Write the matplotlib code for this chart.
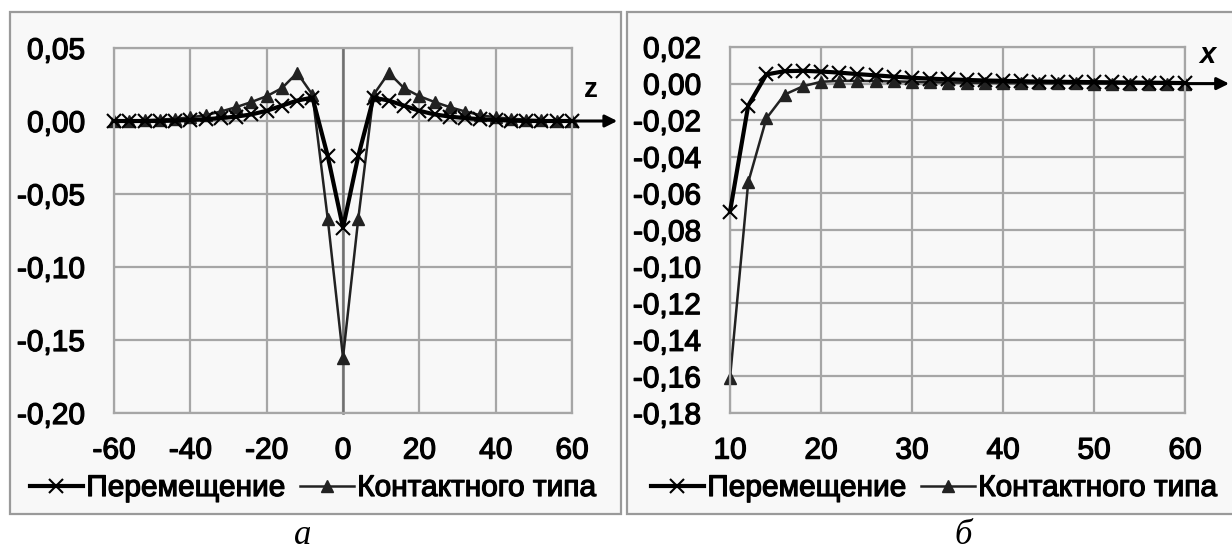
import numpy as np
import matplotlib
matplotlib.use("Agg")
import matplotlib.pyplot as plt
import matplotlib.patheffects as pe
from matplotlib.patches import Rectangle
from matplotlib.ticker import FixedLocator, FixedFormatter

plt.rcParams['font.family'] = ['Liberation Sans', 'DejaVu Sans']
plt.rcParams['axes.unicode_minus'] = False

# --- panel a (z) ---
z_half = [-60, -56, -52, -48, -44, -40, -36, -32, -28, -24, -20, -16, -12, -8, -4, 0]
disp_a_half = [0.0, 0.0, 0.0, 0.0, 0.0003, 0.0007, 0.0012, 0.002, 0.003, 0.0045,
               0.007, 0.0105, 0.014, 0.016, -0.024, -0.073]
cont_a_half = [0.0, 0.0, 0.0005, 0.001, 0.0015, 0.0025, 0.004, 0.0065, 0.0095, 0.013,
               0.017, 0.0225, 0.033, 0.018, -0.067, -0.162]
# symmetric about z = 0
z = z_half + [-v for v in z_half[-2::-1]]
disp_a = disp_a_half + disp_a_half[-2::-1]
cont_a = cont_a_half + cont_a_half[-2::-1]

a_xticks = [-60, -40, -20, 0, 20, 40, 60]
a_yticks = [0.05, 0.0, -0.05, -0.10, -0.15, -0.20]
a_ylabels = ['0,05', '0,00', '-0,05', '-0,10', '-0,15', '-0,20']

# --- panel b (x) ---
xb = [10, 12, 14, 16, 18, 20, 22, 24, 26, 28, 30, 32, 34, 36, 38, 40,
      42, 44, 46, 48, 50, 52, 54, 56, 58, 60]
disp_b = [-0.070, -0.012, 0.005, 0.0068, 0.007, 0.0066, 0.006, 0.0052, 0.0045, 0.0038,
          0.0032, 0.0027, 0.0023, 0.002, 0.0017, 0.0015, 0.0013, 0.0011, 0.001, 0.0009,
          0.0008, 0.0007, 0.0006, 0.0005, 0.0004, 0.0003]
cont_b = [-0.161, -0.054, -0.019, -0.006, -0.0015, 0.001, 0.0015, 0.0015, 0.0014, 0.0012,
          0.001, 0.0008, 0.0006, 0.0005, 0.0004, 0.0003, 0.0002, 0.0002, 0.0001, 0.0001,
          0.0, 0.0, 0.0, 0.0, 0.0, 0.0]

b_xticks = [10, 20, 30, 40, 50, 60]
b_yticks = [0.02, 0.0, -0.02, -0.04, -0.06, -0.08, -0.10, -0.12, -0.14, -0.16, -0.18]
b_ylabels = ['0,02', '0,00', '-0,02', '-0,04', '-0,06', '-0,08', '-0,10',
             '-0,12', '-0,14', '-0,16', '-0,18']

names = ['Перемещение', 'Контактного типа']

W, H = 1232, 552
fig = plt.figure(figsize=(W / 100, H / 100), dpi=100)
fig.patch.set_facecolor('white')

bg = '#f8f8f8'
grid_c = '#a6a6a6'
heavy = [pe.withStroke(linewidth=0.9, foreground='black')]


def box(x0, y0, x1, y1):
    # pixel rectangle (top-left origin) -> figure fraction
    return [x0 / W, 1 - y1 / H, (x1 - x0) / W, (y1 - y0) / H]


for (x0, x1) in [(10, 621), (627, 1245)]:
    r = box(x0, 12, x1, 514)
    fig.patches.append(Rectangle((r[0], r[1]), r[2], r[3], transform=fig.transFigure,
                                 facecolor=bg, edgecolor='#9a9a9a', lw=1.6, zorder=-5))

ax1 = fig.add_axes(box(114, 48, 572, 413))
ax2 = fig.add_axes(box(730, 47, 1185, 413))

for ax, xt, yt, yl, xlim, ylim in [
        (ax1, a_xticks, a_yticks, a_ylabels, (-60, 60), (-0.20, 0.05)),
        (ax2, b_xticks, b_yticks, b_ylabels, (10, 60), (-0.18, 0.02))]:
    ax.set_zorder(2)
    ax.set_facecolor(bg)
    ax.set_xlim(*xlim)
    ax.set_ylim(*ylim)
    ax.xaxis.set_major_locator(FixedLocator(xt))
    ax.yaxis.set_major_locator(FixedLocator(yt))
    ax.yaxis.set_major_formatter(FixedFormatter(yl))
    ax.grid(True, color=grid_c, lw=1.6)
    ax.set_axisbelow(True)
    for s in ax.spines.values():
        s.set_color(grid_c)
        s.set_linewidth(1.6)
    ax.tick_params(length=0, labelsize=21.5, colors='black')
    ax.tick_params(axis='y', pad=21)
    ax.tick_params(axis='x', pad=17)
    for t in ax.get_xticklabels() + ax.get_yticklabels():
        t.set_path_effects(heavy)

ax1.axvline(0, color='#707070', lw=1.8, zorder=1)

# series
ax1.plot(z, disp_a, color='black', lw=3, marker='x', ms=10, mew=1.5, label=names[0], zorder=3)
ax1.plot(z, cont_a, color='#222222', lw=1.8, marker='^', ms=9, label=names[1], zorder=2)
ax2.plot(xb, disp_b, color='black', lw=3, marker='x', ms=10, mew=1.5, label=names[0], zorder=3)
ax2.plot(xb, cont_b, color='#222222', lw=1.8, marker='^', ms=9, label=names[1], zorder=2)

for ax in (ax1, ax2):
    for l in ax.get_lines():
        l.set_clip_on(False)

# axis arrows
ax1.annotate('', xy=(1.105, 0), xytext=(1.0, 0), xycoords=ax1.get_yaxis_transform(),
             arrowprops=dict(arrowstyle='-|>', color='black', lw=2.2, mutation_scale=18),
             annotation_clip=False)
ax2.annotate('', xy=(1.103, 0), xytext=(1.0, 0), xycoords=ax2.get_yaxis_transform(),
             arrowprops=dict(arrowstyle='-|>', color='black', lw=2.2, mutation_scale=18),
             annotation_clip=False)
fig.text(591 / W, 1 - 90 / H, 'z', fontsize=20, fontweight='bold', ha='center', va='center')
fig.text(1207 / W, 1 - 55 / H, 'x', fontsize=21, fontweight='bold', style='italic',
         ha='center', va='center')

# legends
for ax, cx in [(ax1, 313), (ax2, 934)]:
    leg = fig.legend(*ax.get_legend_handles_labels(), loc='center', ncol=2,
                     bbox_to_anchor=(cx / W, 1 - 488 / H), frameon=False, fontsize=21.5,
                     handlelength=1.8, handletextpad=0.1, columnspacing=0.5,
                     borderpad=0, borderaxespad=0)
    for t in leg.get_texts():
        t.set_path_effects(heavy)

# captions
fig.text(303 / W, 1 - 536 / H, 'а', fontsize=25, family='Liberation Serif', style='italic',
         ha='center', va='center')
fig.text(963 / W, 1 - 536 / H, 'б', fontsize=25, family='Liberation Serif', style='italic',
         ha='center', va='center')

fig.savefig('out.png', dpi=100, facecolor='white')
